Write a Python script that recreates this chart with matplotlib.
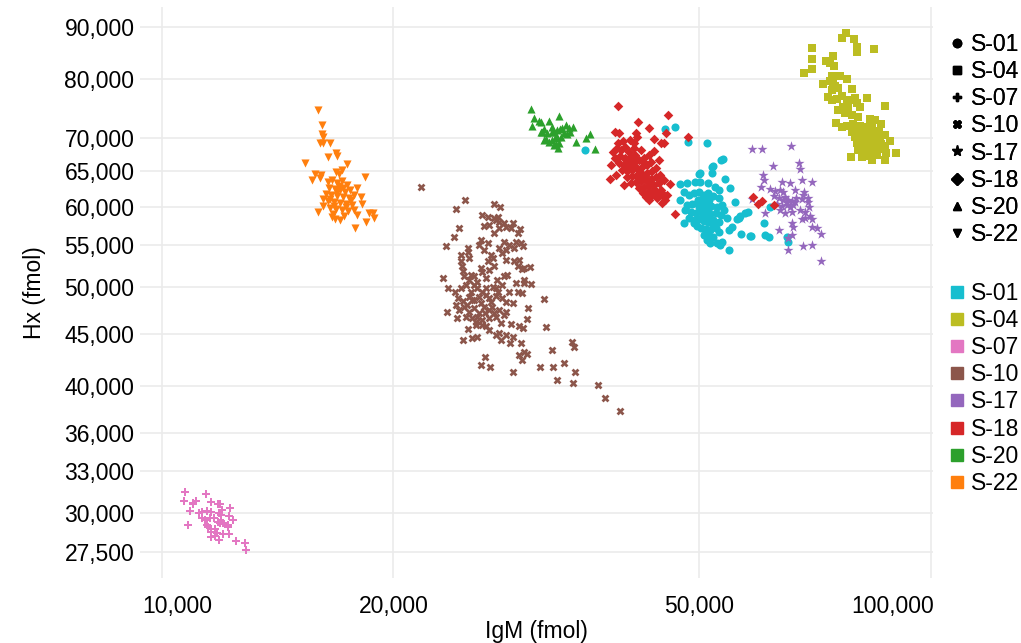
import matplotlib
matplotlib.use("Agg")
import matplotlib.pyplot as plt
from matplotlib.lines import Line2D
from matplotlib.transforms import ScaledTranslation
from matplotlib.ticker import NullLocator, NullFormatter

# ---------------- data ----------------
series_names = ["S-01", "S-04", "S-07", "S-10", "S-17", "S-18", "S-20", "S-22"]
series_colors = ["#17becf", "#bcbd22", "#e377c2", "#8c564b", "#9467bd", "#d62728", "#2ca02c", "#ff7f0e"]
series_markers = ["o", "s", "P", "X", "*", "D", "^", "v"]

s01_x = [35480, 45150, 46520, 48310, 51110, 53370, 53580, 51880, 50120, 49870, 51880, 52140, 54010, 47220,
         48160, 49380, 50120, 51260, 52400, 52940, 47690, 47220, 55670, 54840, 57880, 57340, 56490, 55940,
         56200, 47690, 49380, 49130, 55110, 54560, 56660, 58190, 58360, 60570, 60880, 61480, 61790, 52660,
         53470, 53210, 54560, 64920, 65110,
         48390, 49130, 49870, 50620, 51360, 52140, 52940, 48120, 48830, 49570, 50320, 51070, 51830, 52620,
         53420, 48680, 49420, 50170, 50920, 51670, 52460, 53260, 49130, 49870, 50620, 51360, 52140, 52940,
         50170, 50920, 51670, 52460, 50620, 51360, 52140, 51670, 51070, 53740, 54220, 47830, 48390, 49570,
         52940, 50320, 51520, 49870, 50620, 51360, 50470, 51210, 51990, 49720]
s01_y = [68180, 71510, 71780, 69470, 69220, 66660, 66760, 65660, 64790, 64600, 64790, 65770, 63820, 63100,
         63240, 63480, 63390, 63240, 62770, 62300, 62060, 60910, 60590, 62540, 59320, 59180, 58740, 58300,
         58440, 57780, 57990, 57780, 57350, 56920, 56410, 56200, 56160, 57780, 56290, 55990, 59920, 55250,
         55440, 55040, 54350, 56070, 55440,
         61600, 61880, 62020, 61600, 61880, 61460, 61190, 60230, 60360, 60500, 60230, 60360, 60090, 59960,
         60230, 59270, 59140, 59410, 59140, 59010, 59140, 58870, 58210, 58340, 58080, 57950, 58210, 57950,
         57180, 57050, 56920, 57180, 56290, 56160, 56030, 55280, 55650, 59540, 58470, 59540, 58470, 57440,
         56670, 61050, 60910, 59960, 59680, 59540, 58740, 58600, 57560, 60910]

s04_x = [77440, 76670, 79480, 80200, 80200, 70110, 84220, 74580, 69960, 73030, 73910, 74870, 70110, 68380,
         74270, 75380, 76150, 73910, 74640, 72440, 77670, 78840, 75020, 75760, 74270, 82550, 73540, 74270,
         75380, 76510, 77670, 78470, 79650, 80030, 87100, 75610, 76900, 78070, 80840, 77300, 78840, 80430,
         83300, 84580, 75250, 76510, 77670, 79250, 86220, 78840, 80030, 81230, 82460, 83720, 87100, 88420,
         79650, 80840, 82060, 83300, 84580, 85550, 80030, 81230, 82460, 83720, 84990, 86220, 80430, 81650,
         82880, 84140, 85370, 86660, 89930, 78610, 81230, 82060, 83720, 84990, 87100, 87520,
         81650, 82880, 84140, 80910, 83380, 82400, 84370, 85630,
         82880, 85880, 82190, 83880, 87180, 80910]
s04_y = [88720, 87710, 87570, 86060, 84980, 85870, 85560, 84280, 83720, 83350, 83030, 82420, 81810, 81210,
         80490, 80490, 80490, 79620, 79330, 79160, 80030, 78300, 78750, 78470, 78070, 76710, 76820, 76330,
         76490, 77040, 76040, 76330, 76660, 75760, 75360, 74630, 75100, 74930, 75200, 74080, 73790, 73510,
         73090, 72960, 72420, 71780, 71990, 72310, 72310, 71060, 71330, 71600, 71880, 71990, 70530, 69580,
         70260, 70000, 70260, 70530, 70800, 70260, 69220, 68960, 69110, 69320, 69220, 69110, 68180, 68070,
         68290, 68180, 68440, 68290, 67670, 67120, 67160, 67270, 66660, 67420, 66660, 67770,
         70850, 69740, 70000, 68490, 67720, 71330, 68800, 71170,
         67420, 69740, 69580, 71170, 68800, 71990]

s07_x = [10720, 11410, 10680, 10980, 11070, 10960, 11580, 11830, 11900, 10870, 12250, 11180, 11290, 11460,
         11600, 11970, 11920, 11860, 11280, 11370, 11540, 11690, 12210, 12360, 10820, 11430, 11480, 11830,
         11950, 12010, 11890, 12200, 12190, 11570, 11710, 11600, 11790, 12010, 12210, 11600, 11740, 11860,
         12490, 12810, 12860]
s07_y = [31520, 31380, 30860, 30740, 30880, 30650, 30810, 30630, 30650, 30150, 30350, 30010, 30120, 30190,
         30120, 30240, 29920, 30010, 29680, 29560, 29680, 29680, 29830, 29560, 29230, 29230, 29120, 29450,
         29510, 29380, 29340, 29230, 29120, 28950, 28970, 28800, 28690, 28650, 28650, 28480, 28520, 28250,
         28190, 28060, 27620]

s10_x = [21720, 24770, 24110, 27000, 27520, 24350, 23990, 23400, 26110, 26510, 27050, 27330, 27190, 27440,
         27860, 28570, 26240, 26650, 27050, 27440, 28000, 28430, 29000, 29190, 25980, 25850, 26510, 27440,
         27860, 28000, 28280, 28710, 28860, 29280, 29480, 24970, 24970, 25090, 24470, 24470, 24550, 24600,
         26240, 26780, 26910, 26510, 27720, 28000, 28710, 29130, 29570, 29000, 29370, 30070, 25980, 26110,
         26650, 27050, 23170, 24720, 25090, 25470, 27860, 28140, 28860, 29570, 29570, 30220, 23580, 24060,
         24470, 24850, 25470, 25720, 26110, 26380, 26910, 27190, 28280, 29000, 29420, 31420, 24230, 24600,
         25090, 25470, 25850, 26380, 26650, 27190, 27720, 28000, 28570, 29950, 23490, 24110, 24350, 24720,
         25090, 25470, 25850, 26240, 26650, 27050, 27440, 27860, 28000, 29810, 24850, 25340, 25720, 26110,
         26650, 27190, 27580, 28430, 29130, 29480, 31550, 24970, 25600, 26110, 26650, 27190, 27440, 27580,
         24600, 25340, 25720, 28000, 28570, 28340, 29330, 29130, 29570, 29420, 29860, 26300, 25980, 26700,
         28570, 31020, 32270, 33350, 32150, 34160, 34370, 34410, 32630, 34260, 36920, 37670, 39430,
         26810, 26340, 25220, 27360,
         25240, 25700, 26390, 27280, 24950, 26000, 26890, 25630, 26390, 27690, 24210, 25310]
s10_y = [62680, 60910, 59640, 60320, 60000, 57140, 56070, 54830, 58870, 58650, 58440, 58650, 58210, 57990,
         57780, 57860, 57440, 57560, 56500, 57140, 57270, 57140, 56500, 57010, 55650, 55040, 55250, 54630,
         55440, 54400, 55040, 54630, 55440, 55250, 54920, 54630, 54190, 53400, 53790, 53000, 52410, 51840,
         54400, 53790, 53400, 53000, 54000, 53190, 53000, 53190, 52230, 52410, 52110, 52340, 52230, 51730,
         52000, 52410, 51080, 51270, 50840, 51270, 51270, 51460, 50460, 50840, 50460, 50350, 49970, 49520,
         49900, 50270, 50270, 49900, 49520, 49900, 50080, 49900, 49520, 49460, 49410, 48710, 48790, 48520,
         48970, 48590, 48970, 49150, 48790, 49040, 48790, 48410, 48230, 47760, 47320, 48050, 47500, 47870,
         47320, 47700, 47150, 47870, 47500, 47150, 47500, 46970, 47320, 46550, 46790, 46620, 46790, 46450,
         46620, 46790, 46100, 46030, 45820, 45580, 45750, 45480, 45930, 45930, 45400, 44890, 45060, 44390,
         44390, 44560, 44660, 44890, 44720, 44120, 44060, 42910, 43230, 42430, 42980, 42750, 41950, 41730,
         41320, 41730, 41730, 42110, 43400, 44220, 43670, 41260, 40560, 40310, 40100, 38930, 37810,
         48370, 47180, 49480, 49480,
         51460, 50610, 51080, 50840, 48050, 48230, 47870, 46240, 45820, 50270, 46620, 48590]

s17_x = [58470, 60380, 65700, 62220, 67430, 67570, 60440, 60570, 63960, 65580, 67900, 70110, 60080, 61790,
         62720, 63650, 64280, 66570, 68450, 68240, 58470, 62590, 63460, 64610, 65250, 65900, 66570, 67900,
         69270, 69130, 63020, 63960, 64920, 65580, 60880, 63650, 64610, 66040, 67570, 68590, 69420, 67900,
         68590, 69630, 70110, 65900, 66240, 69960, 71010, 63460, 65120, 65900, 71950, 68240, 69960, 65250,
         71860, 65060, 66240, 66830, 64280]
s17_y = [68290, 68330, 68850, 65770, 66260, 65330, 64370, 63720, 63390, 63240, 63720, 63390, 62680, 62400,
         62210, 62300, 62060, 62300, 61980, 61600, 61010, 61460, 61140, 61280, 60910, 60820, 60680, 61010,
         61230, 60680, 60360, 60090, 60230, 60000, 59100, 59540, 59100, 59320, 59540, 59320, 60000, 58300,
         58440, 58740, 58300, 57780, 57350, 57350, 57140, 56920, 55870, 56290, 56410, 54830, 55040, 54350,
         53010, 60640, 60230, 61190, 60910]

s18_x = [39160, 45460, 41580, 42950, 45230, 48290, 38880, 39280, 41290, 41490, 43600, 40670, 41080, 44620,
         44920, 38300, 38950, 42950, 44030, 44790, 45150, 44700, 45830, 46520, 44030, 58710, 59540, 60380,
         62450, 45360, 44790,
         38570, 39040, 39510, 39990, 40470, 38810, 39400, 39990, 40590, 41200, 39280, 39870, 40470, 41080,
         41690, 42320, 39630, 40230, 40830, 41450, 42070, 42700, 43210, 40230, 40830, 41450, 42070, 42700,
         43340, 43860, 40710, 41330, 41940, 42570, 43210, 43860, 44390, 41690, 42320, 42950, 43600, 44260,
         42190, 42820, 43470, 42570, 43210, 41080, 41940, 38340, 38920, 39870, 44520, 44920, 44260, 42950,
         39160, 39750, 43600, 40110, 40950, 41820, 42440, 43080, 41330, 40350, 42190, 41580, 43730]
s18_y = [75300, 73790, 72580, 71600, 70900, 70260, 71060, 70800, 70800, 70260, 69840, 69740, 69320, 69220,
         69320, 63820, 66760, 60910, 61140, 61460, 60910, 60460, 63150, 59030, 61840, 61370, 60360, 60780,
         60230, 61600, 61700,
         67880, 68490, 68180, 68640, 67880, 66960, 67270, 66960, 67120, 67420, 66210, 65920, 66210, 66360,
         66660, 66960, 65190, 65040, 65190, 65480, 65630, 65920, 66360, 64160, 64310, 64450, 64600, 64750,
         65040, 65480, 63290, 63430, 63580, 63720, 63860, 64160, 64450, 62580, 62730, 62870, 63010, 63290,
         61880, 62020, 62160, 61320, 61460, 68490, 68180, 65920, 64450, 63010, 62300, 63720, 66660, 67420,
         69270, 69580, 68030, 66660, 65770, 64900, 64310, 63290, 66660, 65770, 66360, 64010, 62300]

s20_x = [30210, 30440, 30300, 30950, 31140, 31850, 32850, 31380, 31220, 31070, 32170, 32110, 32330, 32660,
         32890, 33480, 33810, 34220, 33980, 33640, 33310, 31540, 31850, 32170, 32430, 32660, 32330, 32560,
         32760, 32830, 31380, 34500, 35550, 35980, 36550, 31670, 33030, 33130]
s20_y = [74750, 73240, 72020, 72850, 72680, 72850, 73620, 71440, 71060, 71060, 71860, 71060, 71060, 71330,
         71440, 72140, 71600, 71860, 71060, 70690, 70800, 69840, 69470, 69740, 70000, 70260, 68960, 69110,
         68440, 69220, 69740, 69470, 70000, 70690, 68290, 70850, 70210, 71650]

s22_x = [15970, 16170, 16170, 16220, 16030, 16190, 16530, 16850, 16890, 16460, 15370, 17380, 17160, 15810,
         16110, 16030, 16850, 17010, 18370, 15690, 17930, 18150, 18190, 15970, 16640, 16810, 17050, 17960,
         18570, 18790, 18870, 18410, 17830, 16190, 16220,
         16420, 16660, 16910, 17160, 17420, 16510, 16810, 17060, 17310, 17580, 16320, 16610, 16910, 17210,
         17520, 17790, 16460, 16760, 17060, 17370, 17690, 16560, 16860, 17160, 17470, 16710, 17260, 17630,
         17010, 16760,
         16910, 17210, 16560, 17370, 17790]
s22_y = [74630, 72140, 70640, 70260, 69220, 69220, 69300, 67770, 67270, 67160, 66170, 66060, 65190, 64600,
         64450, 63970, 64940, 64600, 64110, 63720, 62540, 61370, 60360, 59240, 58650, 58330, 58210, 58860,
         59080, 59080, 58470, 57990, 57210, 61010, 60090,
         63430, 63720, 63290, 63580, 63010, 62580, 62440, 62300, 62020, 62300, 61740, 61600, 61460, 61320,
         61190, 61600, 60780, 60640, 60500, 60360, 60230, 59810, 59680, 59540, 59410, 59010, 58740, 60910,
         62870, 60090,
         62020, 62580, 61050, 59950, 59540]

series_x = [s01_x, s04_x, s07_x, s10_x, s17_x, s18_x, s20_x, s22_x]
series_y = [s01_y, s04_y, s07_y, s10_y, s17_y, s18_y, s20_y, s22_y]

x_ticks = [10000, 20000, 50000, 100000]
x_tick_labels = ["10,000", "20,000", "50,000", "100,000"]
y_ticks = [27500, 30000, 33000, 36000, 40000, 45000, 50000, 55000, 60000, 65000, 70000, 80000, 90000]
y_tick_labels = ["27,500", "30,000", "33,000", "36,000", "40,000", "45,000", "50,000", "55,000",
                 "60,000", "65,000", "70,000", "80,000", "90,000"]

# ---------------- figure ----------------
plt.rcParams["font.family"] = ["Liberation Sans", "DejaVu Sans"]
W, H = 1021, 643
fig = plt.figure(figsize=(W / 100, H / 100), dpi=100)
ax = fig.add_axes([140 / W, 1 - 578 / H, 793 / W, 571 / H])

marker_sizes = {"o": 34, "s": 32, "P": 40, "X": 32, "*": 58, "D": 24, "^": 34, "v": 34}
for xs, ys, c, m in zip(series_x, series_y, series_colors, series_markers):
    ax.scatter(xs, ys, s=marker_sizes[m], c=c, marker=m, linewidths=0, zorder=3)

ax.set_xscale("log")
ax.set_yscale("log")
ax.set_xlim(9365, 100600)
ax.set_ylim(25933, 94160)

ax.xaxis.set_minor_locator(NullLocator())
ax.yaxis.set_minor_locator(NullLocator())
ax.xaxis.set_minor_formatter(NullFormatter())
ax.yaxis.set_minor_formatter(NullFormatter())
ax.set_xticks(x_ticks)
ax.set_xticklabels(x_tick_labels)
ax.set_yticks(y_ticks)
ax.set_yticklabels(y_tick_labels)
ax.tick_params(axis="both", length=0, labelsize=16.5, colors="black")
ax.tick_params(axis="x", pad=12.5)
ax.tick_params(axis="y", pad=4)

ax.grid(True, color="#ebebeb", linewidth=1.2, zorder=0)
ax.set_axisbelow(True)
for sp in ax.spines.values():
    sp.set_visible(False)

ax.set_xlabel("IgM (fmol)", fontsize=16.5, labelpad=1)
ax.set_ylabel("Hx (fmol)", fontsize=16.5, labelpad=13)

# shift the edge x tick labels inward like the reference
xt = ax.xaxis.get_major_ticks()
xt[0].label1.set_transform(xt[0].label1.get_transform() + ScaledTranslation(15 / 100, 0, fig.dpi_scale_trans))
xt[-1].label1.set_transform(xt[-1].label1.get_transform() + ScaledTranslation(-38 / 100, 0, fig.dpi_scale_trans))

# legends
shape_handles = [Line2D([], [], linestyle="None", marker=m, color="black", markersize=6 if m != "*" else 8)
                 for m in series_markers]
color_handles = [Line2D([], [], linestyle="None", marker="s", color=c, markersize=8.5)
                 for c in series_colors]
leg_kw = dict(loc="upper left", frameon=False, fontsize=16.5, handlelength=0.7, handletextpad=0.25,
              labelspacing=0.18, borderpad=0, borderaxespad=0)
leg1 = fig.legend(shape_handles, series_names, bbox_to_anchor=(949 / W, 1 - 33 / H), **leg_kw)
leg2 = fig.legend(color_handles, series_names, bbox_to_anchor=(949 / W, 1 - 282 / H), **leg_kw)
fig.add_artist(leg1)

fig.savefig("out.png", dpi=100)
